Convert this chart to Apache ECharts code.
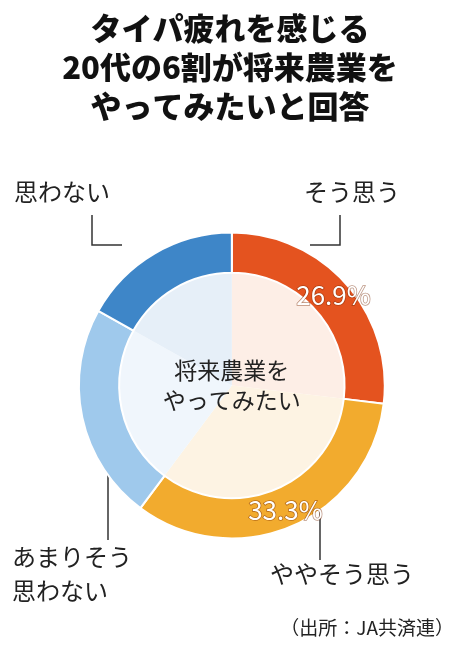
<!DOCTYPE html><html><head><meta charset="utf-8">
<script src="https://cdn.jsdelivr.net/npm/echarts@6/dist/echarts.min.js"></script>
<style>body{margin:0;background:#fff}#c{width:460px;height:650px}</style></head><body><div id="c"></div>
<script>
const categories=['そう思う','ややそう思う','あまりそう思わない','思わない'];
const values=[26.9,33.3,22.9,16.9];
const shownPct=[true,true,false,false];
const colors=['#e4531f','#f2ab2e','#9fc9ec','#3e86c8'];
const lightColors=['#fdeee6','#fdf3e3','#f0f6fc','#e6eff8'];
const chart=echarts.init(document.getElementById('c'));
const F='"Noto Sans CJK JP"';
chart.setOption({
 animation:false,
 title:{text:'タイパ疲れを感じる\n20代の6割が将来農業を\nやってみたいと回答',left:'center',top:4,
  textStyle:{fontFamily:F,fontWeight:900,fontSize:31,lineHeight:39,color:'#111'}},
 series:[
 {type:'pie',radius:[0,'49%'],center:['50.4%','59.3%'],startAngle:90,silent:true,
  data:categories.map((c,i)=>({name:c,value:values[i],itemStyle:{color:lightColors[i]}})),
  label:{show:true,position:'center',formatter:()=> '将来農業を\nやってみたい',fontFamily:F,fontSize:23,lineHeight:30,color:'#222'},
  labelLine:{show:false},itemStyle:{borderWidth:0}},
 {type:'pie',radius:['49%','66.5%'],center:['50.4%','59.3%'],startAngle:90,silent:true,
  data:categories.map((c,i)=>({name:c,value:values[i],itemStyle:{color:colors[i]},
   label:{show:shownPct[i]}})),
  itemStyle:{borderColor:'#fff',borderWidth:2},
  label:{position:'inside',formatter:p=>p.value+'%',fontFamily:F,fontSize:26,color:'#fff',
   textBorderColor:'rgba(120,40,0,0.5)',textBorderWidth:1.5},
  labelLine:{show:false}}
 ],
 graphic:[
  {type:'text',left:14,top:180,style:{text:'思わない',fontFamily:F,fontSize:24,fill:'#222'}},
  {type:'polyline',shape:{points:[[92,215],[92,245],[122,245]]},style:{stroke:'#333',lineWidth:1.5}},
  {type:'text',left:304,top:180,style:{text:'そう思う',fontFamily:F,fontSize:24,fill:'#222'}},
  {type:'polyline',shape:{points:[[340,215],[340,245],[310,245]]},style:{stroke:'#333',lineWidth:1.5}},
  {type:'text',left:12,top:540,style:{text:'あまりそう\n思わない',fontFamily:F,fontSize:24,lineHeight:34,fill:'#222'}},
  {type:'line',shape:{x1:108,y1:475,x2:108,y2:540},style:{stroke:'#333',lineWidth:1.5}},
  {type:'text',left:270,top:562,style:{text:'ややそう思う',fontFamily:F,fontSize:24,fill:'#222'}},
  {type:'line',shape:{x1:320,y1:478,x2:320,y2:560},style:{stroke:'#333',lineWidth:1.5}},
  {type:'text',right:6,top:618,style:{text:'（出所：JA共済連）',fontFamily:F,fontSize:19,fill:'#222'}}
 ]
});
</script></body></html>
